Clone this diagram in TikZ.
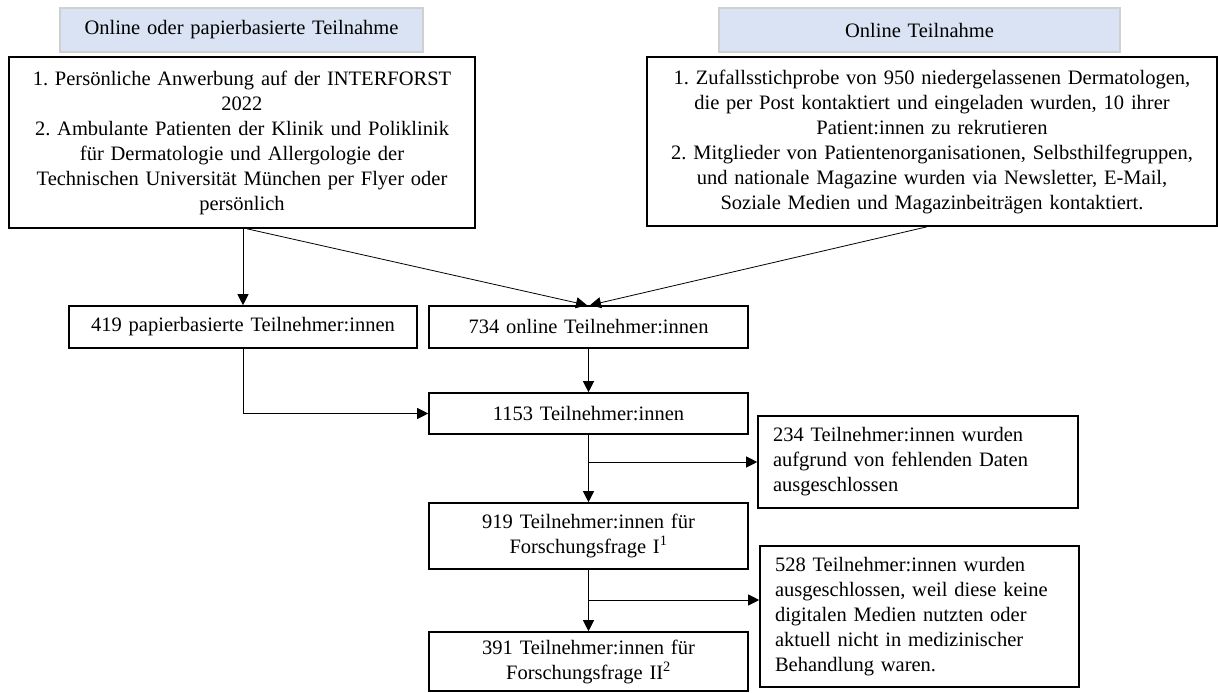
\documentclass[tikz,border=0pt]{standalone}
\usepackage{fontspec}
\setmainfont{Liberation Serif}
\usetikzlibrary{arrows.meta,calc}
\definecolor{hdrblue}{HTML}{DAE3F3}
\definecolor{hdrline}{HTML}{D0D0D0}
\tikzset{
  txt/.style={font=\fontsize{20.5}{25}\selectfont\frenchspacing},
  hdr/.style={txt, draw=hdrline, fill=hdrblue, line width=1.5pt, inner sep=0pt, align=center},
  cbox/.style={txt, draw=black, line width=1.6pt, inner xsep=0pt, inner ysep=0pt, align=center},
  lbox/.style={txt, draw=black, line width=1.6pt, inner xsep=15pt, inner ysep=0pt, align=left},
  conn/.style={line width=0.8pt, -{Triangle[length=11pt,width=11pt]}},
  plain/.style={line width=0.8pt}
}
\begin{document}
\frenchspacing
\begin{tikzpicture}[x=1pt,y=-1pt]
\useasboundingbox (0,0) rectangle (1218,693);
% headers
\node[hdr, minimum width=363pt, minimum height=44pt, text width=363pt] (h1) at (241.5,30) {Online oder papierbasierte Teilnahme};
\node[hdr, minimum width=401pt, minimum height=44pt, text width=401pt] (h2) at (919.5,30) {Online Teilnahme};
% top boxes
\node[cbox, minimum width=466pt, minimum height=171pt, text width=466pt] (lb) at (242,142.5) {1. Persönliche Anwerbung auf der INTERFORST\\2022\\2. Ambulante Patienten der Klinik und Poliklinik\\für Dermatologie und Allergologie der\\Technischen Universität München per Flyer oder\\persönlich};
\node[cbox, minimum width=570pt, minimum height=169pt, text width=570pt] (rb) at (932,141.5) {1. Zufallsstichprobe von 950 niedergelassenen Dermatologen,\\die per Post kontaktiert und eingeladen wurden, 10 ihrer\\Patient:innen zu rekrutieren\\2. Mitglieder von Patientenorganisationen, Selbsthilfegruppen,\\und nationale Magazine wurden via Newsletter, E-Mail,\\Soziale Medien und Magazinbeiträgen kontaktiert.};
% second row
\node[cbox, minimum width=348pt, minimum height=42pt, text width=348pt] (paper) at (243,327) {419 papierbasierte Teilnehmer:innen};
\node[cbox, minimum width=319pt, minimum height=42pt, text width=319pt] (online) at (588.5,327) {734 online Teilnehmer:innen};
% main column
\node[cbox, minimum width=319pt, minimum height=41pt, text width=319pt] (all) at (588.5,413.5) {1153 Teilnehmer:innen};
\node[cbox, minimum width=319pt, minimum height=66pt, text width=319pt] (rq1) at (588.5,536) {919 Teilnehmer:innen für\\Forschungsfrage I\textsuperscript{1}};
\node[cbox, minimum width=319pt, minimum height=59pt, text width=319pt] (rq2) at (588.5,661.5) {391 Teilnehmer:innen für\\Forschungsfrage II\textsuperscript{2}};
% exclusion boxes
\node[lbox, minimum width=320pt, minimum height=92pt, text width=290pt] (ex1) at (918,462) {234 Teilnehmer:innen wurden\\aufgrund von fehlenden Daten\\ausgeschlossen};
\node[lbox, minimum width=319pt, minimum height=141pt, text width=289pt] (ex2) at (919.5,616.5) {528 Teilnehmer:innen wurden\\ausgeschlossen, weil diese keine\\digitalen Medien nutzten oder\\aktuell nicht in medizinischer\\Behandlung waren.};
% connectors
\draw[conn] (lb.south) ++(1,0) coordinate (lbs) -- (lbs |- paper.north);
\draw[conn] ($(lb.south)+(5,0)$) -- ($(online.north)+(-1.5,0)$);
\draw[conn] ($(rb.south)+(-5,0)$) -- ($(online.north)+(1.5,0)$);
\draw[conn] (online.south) -- (all.north);
\draw[conn] (paper.south) |- (all.west);
\draw[conn] (all.south) -- (rq1.north);
\draw[conn] (rq1.south) -- (rq2.north);
\coordinate (b1) at (all.south |- ex1.west);
\coordinate (b2) at (rq1.south |- 0,600);
\draw[conn] (b1) -- (ex1.west);
\draw[conn] (b2) -- (b2 -| ex2.west);
\end{tikzpicture}
\end{document}
